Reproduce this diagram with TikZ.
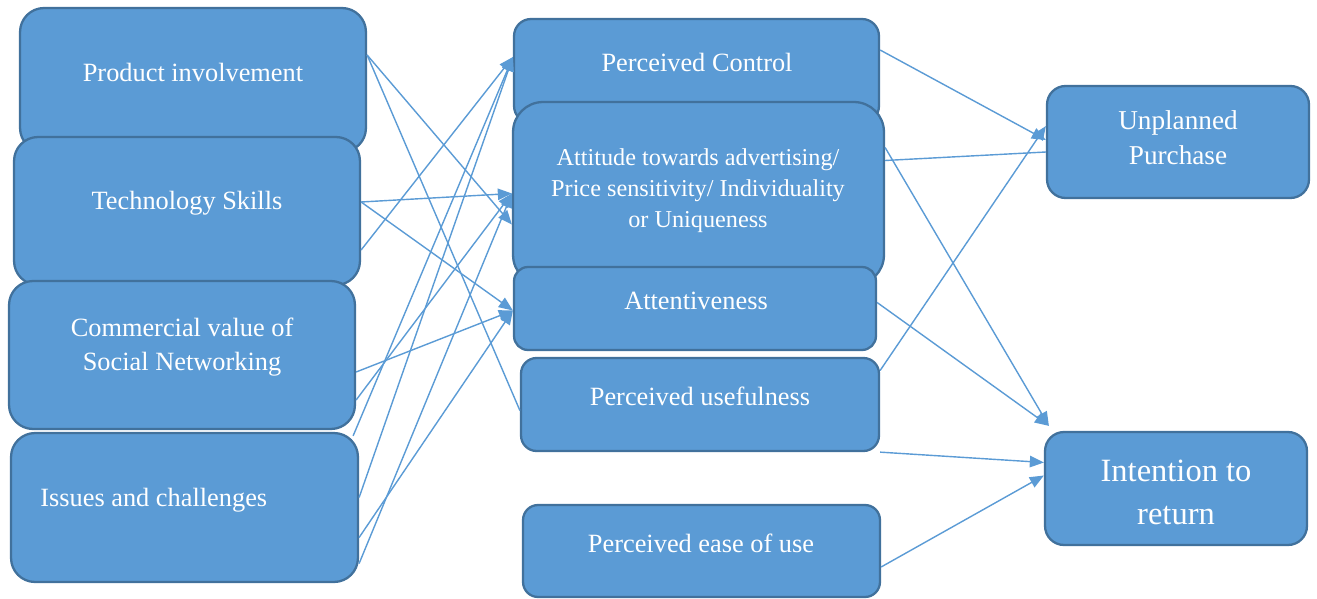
\documentclass[tikz,border=0pt]{standalone}
\usepackage{fontspec}
\setmainfont{Liberation Serif}
\usetikzlibrary{arrows.meta,calc}

\definecolor{boxblue}{HTML}{5B9BD5}
\definecolor{boxedge}{HTML}{41719C}

\tikzset{
  box/.style={draw=boxedge, fill=boxblue, line width=1.3pt, rounded corners=#1, inner sep=0pt},
  box/.default=0.48cm,
  lbl/.style={text=white, inner sep=0pt, align=center, font=\fontsize{15}{19.4}\selectfont},
  toarrow/.style={draw=boxblue, line width=0.8pt, -{Triangle[length=8pt,width=6.5pt]}},
  toline/.style={draw=boxblue, line width=0.8pt},
}

\begin{document}
\begin{tikzpicture}[x=0.02cm, y=-0.02cm]
    \useasboundingbox (0,0) rectangle (1317,598);

    % left column
    \node[box, minimum width=6.92cm, minimum height=2.88cm] (pi) at (193,80) {};
    \node[box, minimum width=6.92cm, minimum height=2.96cm] (ts) at (187,211) {};
    \node[box, minimum width=6.92cm, minimum height=2.96cm] (cv) at (182,355) {};
    \node[box, minimum width=6.94cm, minimum height=2.98cm] (ic) at (184.5,507.5) {};

    % middle column
    \node[box=0.34cm, minimum width=7.3cm, minimum height=2.08cm] (pc) at (696.5,71) {};
    \node[box=0.6cm, minimum width=7.42cm, minimum height=3.66cm] (att) at (698.5,193.5) {};
    \node[box=0.28cm, minimum width=7.24cm, minimum height=1.66cm] (attn) at (695,308.5) {};
    \node[box=0.31cm, minimum width=7.16cm, minimum height=1.86cm] (pu) at (700,404.5) {};
    \node[box=0.3cm, minimum width=7.14cm, minimum height=1.84cm] (pe) at (701.5,551) {};

    % right column
    \node[box=0.37cm, minimum width=5.24cm, minimum height=2.24cm] (up) at (1178,142) {};
    \node[box=0.38cm, minimum width=5.24cm, minimum height=2.26cm] (ir) at (1176,488.5) {};

    % labels
    \node[lbl] (pi-t) at (193,72) {Product involvement};
    \node[lbl] (ts-t) at (187,203) {Technology Skills};
    \node[lbl] (cv-t) at (182,347) {Commercial value of\\Social Networking};
    \node[lbl, anchor=west] (ic-t) at (40,500) {Issues and challenges};
    \node[lbl] (pc-t) at (697,62) {Perceived Control};
    \node[lbl, font=\fontsize{13.8}{17.6}\selectfont] (att-t) at (698,191) {Attitude towards advertising/\\Price sensitivity/ Individuality\\or Uniqueness};
    \node[lbl] (attn-t) at (696,301) {Attentiveness};
    \node[lbl] (pu-t) at (700,396) {Perceived usefulness};
    \node[lbl] (pe-t) at (701,543) {Perceived ease of use};
    \node[lbl, font=\fontsize{15.5}{20}\selectfont] (up-t) at (1178,138) {Unplanned\\Purchase};
    \node[lbl, font=\fontsize{18.5}{24.5}\selectfont] (ir-t) at (1176,492) {Intention to\\return};

    % left to middle
    \draw[toarrow] ($(pi.east)+(0,-25)$) -- ($(att.west)+(0,31)$);
    \draw[toline] ($(pi.east)+(0,-25)$) -- ($(pu.west)+(0,6)$);
    \draw[toarrow] ($(ts.east)+(0,-9)$) -- (att.west);
    \draw[toarrow] ($(ts.east)+(0,-9)$) -- ($(attn.west)+(0,2)$);
    \draw[toarrow] ($(ts.east)+(0,39)$) -- ($(pc.west)+(0,-14)$);
    \draw[toarrow] ($(cv.east)+(0,17)$) -- ($(attn.west)+(0,2)$);
    \draw[toarrow] ($(cv.east)+(0,45)$) -- (att.west);
    \draw[toarrow] ($(ic.north east)+(-6,4)$) -- ($(pc.west)+(0,-14)$);
    \draw[toarrow] ($(ic.east)+(0,-10)$) -- ($(pc.west)+(0,-14)$);
    \draw[toarrow] ($(ic.east)+(0,56)$) -- (att.west);
    \draw[toarrow] ($(ic.east)+(0,30)$) -- ($(attn.west)+(0,2)$);

    % middle to right
    \draw[toarrow] ($(pc.east)+(0,-21)$) -- ($(up.west)+(0,-2)$);
    \draw[toline] ($(att.east)+(0,-33)$) -- ($(up.west)+(0,10)$);
    \draw[toarrow] ($(pu.east)+(0,-34)$) -- ($(up.west)+(0,-16)$);
    \draw[toarrow] ($(att.east)+(0,-46)$) -- ($(ir.north west)+(5,-5)$);
    \draw[toarrow] ($(attn.east)+(0,-6)$) -- ($(ir.north west)+(5,-5)$);
    \draw[toarrow] (pu.south east) -- ($(ir.west)+(0,-26)$);
    \draw[toarrow] ($(pe.east)+(0,16)$) -- ($(ir.west)+(0,-13)$);
\end{tikzpicture}
\end{document}
